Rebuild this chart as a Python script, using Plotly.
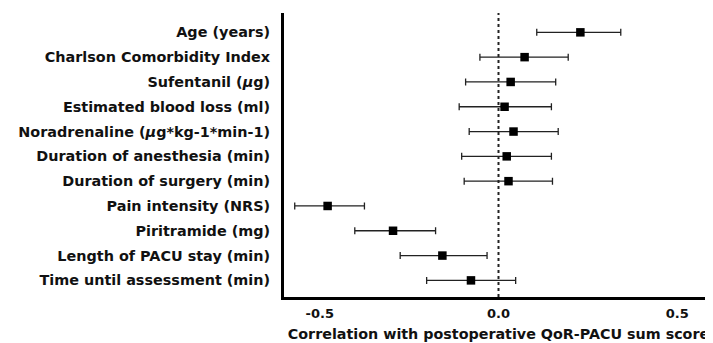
import plotly.graph_objects as go

labels = ["Age (years)", "Charlson Comorbidity Index", "Sufentanil (<i>µ</i>g)",
          "Estimated blood loss (ml)", "Noradrenaline (<i>µ</i>g*kg-1*min-1)",
          "Duration of anesthesia (min)", "Duration of surgery (min)",
          "Pain intensity (NRS)", "Piritramide (mg)", "Length of PACU stay (min)",
          "Time until assessment (min)"]
r_values = [0.229, 0.073, 0.034, 0.017, 0.042, 0.023, 0.028, -0.478, -0.295, -0.157, -0.077]
ci_low = [0.107, -0.052, -0.092, -0.110, -0.082, -0.103, -0.096, -0.570, -0.402, -0.275, -0.201]
ci_high = [0.342, 0.195, 0.160, 0.148, 0.167, 0.148, 0.151, -0.375, -0.176, -0.032, 0.048]
x_ticks = [-0.5, 0.0, 0.5]
x_ticktext = ["-0.5", "0.0", "0.5"]

pos = list(range(1, len(labels) + 1))
err_plus = [h - v for h, v in zip(ci_high, r_values)]
err_minus = [v - l for v, l in zip(r_values, ci_low)]

font_family = "DejaVu Sans, Liberation Sans, Arial, sans-serif"

fig = go.Figure()
fig.add_trace(go.Scatter(
    x=r_values, y=pos, mode="markers",
    marker=dict(symbol="square", size=8.5, color="black"),
    error_x=dict(type="data", symmetric=False, array=err_plus, arrayminus=err_minus,
                 color="#222222", thickness=1.3, width=3.5),
    showlegend=False, cliponaxis=False,
))

fig.add_shape(type="line", x0=0, x1=0, y0=0, y1=1, xref="x", yref="paper",
              line=dict(color="#222222", width=2, dash="dot"), layer="below")

fig.update_layout(
    width=705, height=335,
    margin=dict(l=276, r=0, t=5, b=46),
    paper_bgcolor="white", plot_bgcolor="white",
    font=dict(family=font_family, color="#111111"),
    xaxis=dict(range=[-0.6, 0.6], tickvals=x_ticks, ticktext=x_ticktext,
               showline=True, linewidth=3, linecolor="black", showgrid=False,
               zeroline=False, ticks="", ticklabelstandoff=2,
               tickfont=dict(size=13, weight="bold"),
               title=dict(text="Correlation with postoperative QoR-PACU sum score",
                          font=dict(size=14.3, weight="bold"), standoff=10)),
    yaxis=dict(range=[11.67, 0.22], tickvals=pos, ticktext=labels,
               showline=True, linewidth=3, linecolor="black", showgrid=False,
               zeroline=False, ticks="", ticklabelstandoff=8,
               tickfont=dict(size=14.4, weight="bold")),
)

fig.write_html("out.html")
